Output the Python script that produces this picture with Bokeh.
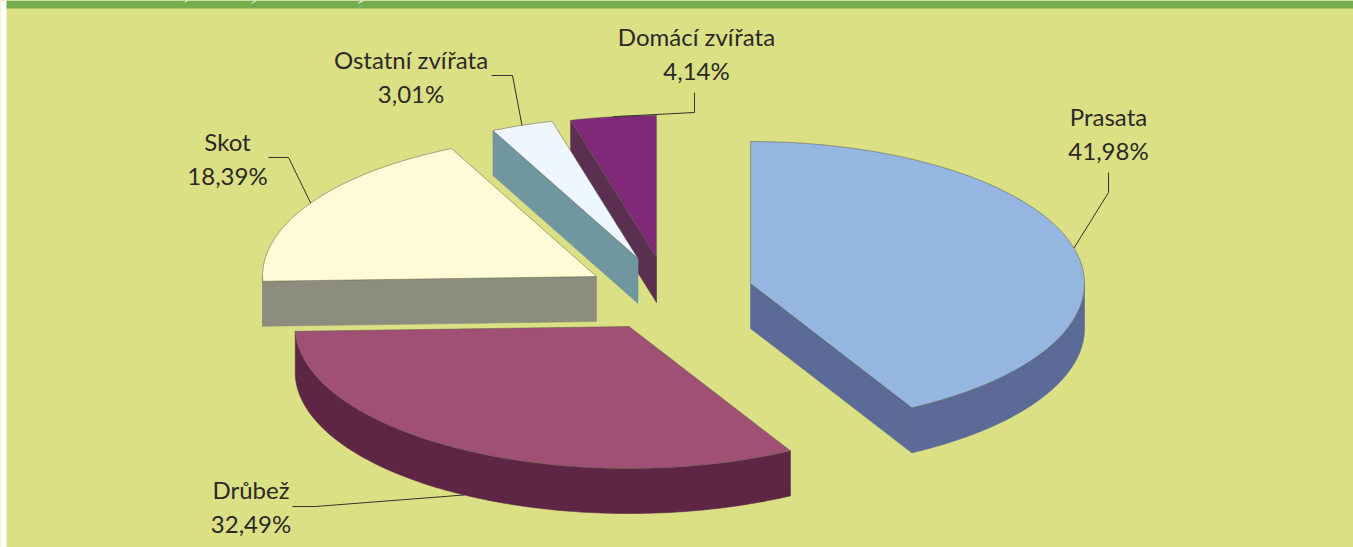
from math import sin, cos, radians
from bokeh.plotting import figure
from bokeh.embed import file_html
from bokeh.resources import INLINE
from bokeh.core.properties import value

# --- data ---
categories = ["Prasata", "Drůbež", "Skot", "Ostatní zvířata", "Domácí zvířata"]
shares = [41.98, 32.49, 18.39, 3.01, 4.14]
share_labels = ["41,98%", "32,49%", "18,39%", "3,01%", "4,14%"]

# --- styling ---
top_colors = ["#95B6E0", "#A05075", "#FFFBD6", "#EEF6FF", "#802979"]
side_colors = ["#5B6A96", "#5E2545", "#8C8D7C", "#70969F", "#5A2F50"]
BG, BAR, INK = "#DCE085", "#73AD4E", "#2A2926"
EDGE = "#5F5F4A"

# --- layout of the exploded 3-D pie (pixels of the 1353x547 page) ---
W, H = 1353, 547
RX, RY, DEPTH = 334, 142, 45
apex_x = [750, 628.6, 596, 637.5, 656]
apex_y = [283, 326, 276, 258, 257]
label_x = [1108, 250.5, 227, 410.5, 696]
label_y = [116, 489, 141, 59, 36]
leader_knee = [[(1108, 172), (1108, 192)], [(292, 506), (315, 506)], [(268, 157), (288, 157)],
               [(491, 75), (512, 75)], [(694, 92), (694, 112)]]
leader_on_side = [False, True, False, False, False]
draw_order = [0, 1, 2, 4, 3]
cut_face_side = ["end", None, "start", "start", "start"]

p = figure(width=W, height=H, x_range=(0, W), y_range=(H, 0), toolbar_location=None,
           output_backend="svg", min_border=0, outline_line_color=None,
           background_fill_color=BG, border_fill_color=BG)
p.axis.visible = False
p.grid.visible = False

# page furniture
p.quad(left=[0], right=[6], top=[0], bottom=[H], fill_color="white", line_color=None)
p.quad(left=[6], right=[W], top=[0], bottom=[8], fill_color=BAR, line_color=None)
p.patches(xs=[[183, 188, 186, 183], [251, 257, 255, 250], [358, 364, 361, 357]],
          ys=[[3, 0, 0, 3]] * 3, fill_color="white", line_color=None)


def rim(cx, cy, deg, dz=0):
    a = radians(deg)
    return cx + RX * sin(a), cy - RY * cos(a) + dz


# cumulative angles, clockwise from north
starts, ends = [], []
acc = 0.0
total = sum(shares)
for s in shares:
    starts.append(acc)
    acc += s / total * 360
    ends.append(acc)


def poly(i):
    cx, cy, a0, a1 = apex_x[i], apex_y[i], starts[i], ends[i]
    n = max(2, int(a1 - a0) * 2)
    pts = [rim(cx, cy, a0 + (a1 - a0) * k / n) for k in range(n + 1)]
    return [cx] + [q[0] for q in pts], [cy] + [q[1] for q in pts]


def outer_wall(i):
    """Outer rim wall: only the part of the rim facing the viewer (90..270 deg)."""
    cx, cy = apex_x[i], apex_y[i]
    a0, a1 = max(starts[i], 90), min(ends[i], 270)
    if a1 <= a0:
        return None
    n = max(2, int(a1 - a0) * 2)
    ang = [a0 + (a1 - a0) * k / n for k in range(n + 1)]
    up = [rim(cx, cy, a) for a in ang]
    dn = [rim(cx, cy, a, DEPTH) for a in reversed(ang)]
    return [q[0] for q in up + dn], [q[1] for q in up + dn]


def cut_wall(i):
    """Flat cut face of a slice, where it faces the viewer."""
    if cut_face_side[i] is None:
        return None
    cx, cy = apex_x[i], apex_y[i]
    a = ends[i] if cut_face_side[i] == "end" else starts[i]
    rx, ry = rim(cx, cy, a)
    return [cx, rx, rx, cx], [cy, ry, ry + DEPTH, cy + DEPTH]


for i in draw_order:
    for wall in (cut_wall(i), outer_wall(i)):
        if wall:
            p.patch(wall[0], wall[1], fill_color=side_colors[i], line_color=side_colors[i], line_width=0.6)
    xs, ys = poly(i)
    p.patch(xs, ys, fill_color=top_colors[i], line_color=EDGE, line_alpha=0.65, line_width=0.8)

# leader lines: they meet the rim at the middle angle of each slice
for i in range(len(shares)):
    mid = (starts[i] + ends[i]) / 2
    end = rim(apex_x[i], apex_y[i], mid, DEPTH if leader_on_side[i] else 0)
    pts = leader_knee[i] + [end]
    p.line([q[0] for q in pts], [q[1] for q in pts], line_color="#33322B", line_width=1)

# two-line labels
for i in range(len(shares)):
    for text, dy in ((categories[i], 0), (share_labels[i], 34)):
        p.text(x=[label_x[i]], y=[label_y[i] + dy], text=[text], text_align="center",
               text_baseline="middle", text_color=INK,
               text_font=value("Lato"), text_font_size="24px")

html = file_html(p, INLINE)
open("out.html", "w").write(html)
